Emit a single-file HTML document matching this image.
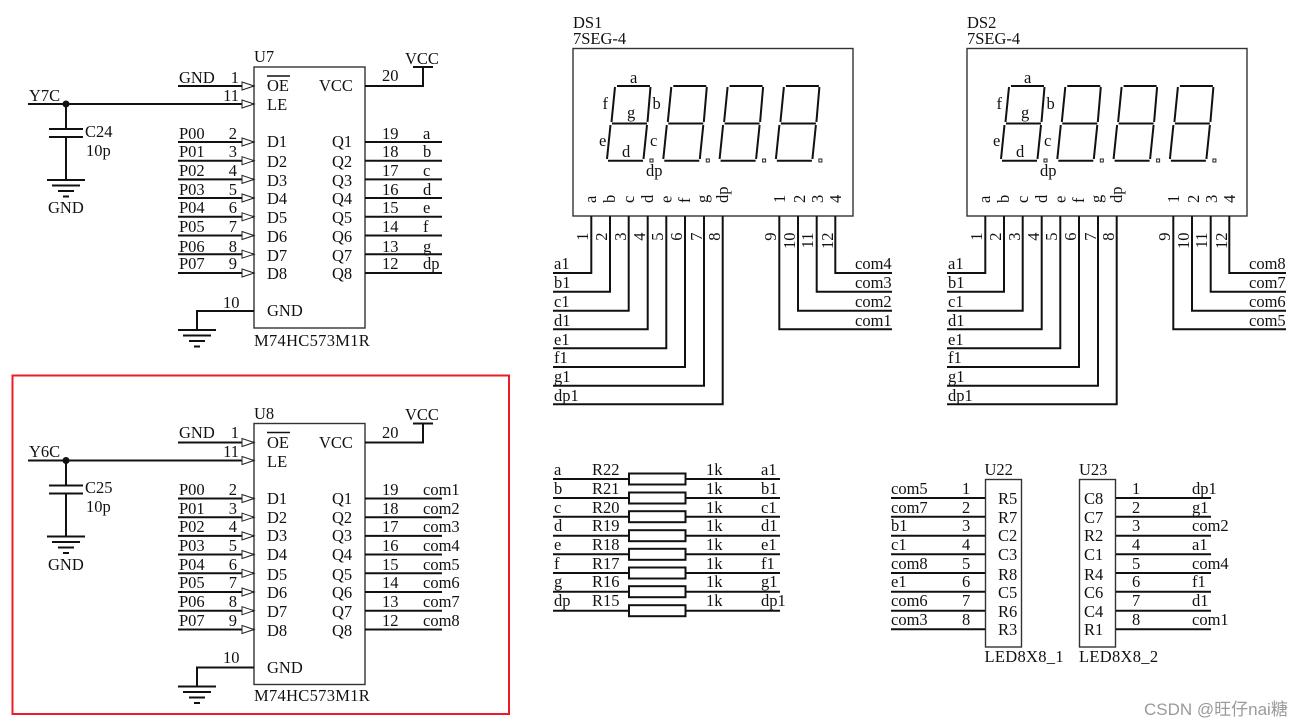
<!DOCTYPE html>
<html><head><meta charset="utf-8"><style>
html,body{margin:0;padding:0;background:#fff}
svg{display:block}
text{font-family:"Liberation Serif","Noto Serif CJK SC",serif;font-size:16.500px;fill:#111}
.w{stroke:#111;stroke-width:2;fill:none}
.b{stroke:#333;stroke-width:1.4;fill:#fff}
.a{stroke:#222;stroke-width:1;fill:#fff}
.s{stroke:#111;stroke-width:2;fill:none}
.m{text-anchor:end}
.l{letter-spacing:.3px}
</style></head><body>
<svg width="1302" height="727" viewBox="0 0 1302 727" xmlns="http://www.w3.org/2000/svg">
<defs>
<path id="gnd" class="w" d="M-19 0H19M-14 5.500H14M-8 11H8M-3 16.500H3"/>
<g id="ic">
<rect class="b" x="254" y="67" width="111" height="261"/>
<path class="w" d="M178 86H254M178 142H254M178 160.700H254M178 179.400H254M178 198H254M178 216.800H254M178 235.500H254M178 254.200H254M178 273H254"/>
<path class="w" d="M28 104H254"/>
<path class="w" d="M365 142H442M365 160.700H442M365 179.400H442M365 198H442M365 216.800H442M365 235.500H442M365 254.200H442M365 273H442"/>
<path class="w" d="M365 86H423V67M413 67H433"/>
<path class="w" d="M254 311H197V330"/>
<use href="#gnd" x="197" y="330"/>
<path class="w" d="M66 104V129M49 129H83M49 137H83M66 137V180"/>
<use href="#gnd" x="66" y="180"/>
<circle cx="66" cy="104" r="3.500" fill="#111"/>
<path class="a" d="M242 82L254 86L242 90ZM242 100L254 104L242 108ZM242 138L254 142L242 146ZM242 156.700L254 160.700L242 164.700ZM242 175.400L254 179.400L242 183.400ZM242 194L254 198L242 202ZM242 212.800L254 216.800L242 220.800ZM242 231.500L254 235.500L242 239.500ZM242 250.200L254 254.200L242 258.200ZM242 269L254 273L242 277Z"/>
<path d="M267 76H290" stroke="#111" stroke-width="1.500"/>
</g>
<g id="dig">
<path class="s" d="M617 86H650M615 87L611.500 122M650.500 87L647.500 122M612 123.500H647M610.500 125L607 159M647 125L643.500 159M608 160.700H643"/>
<rect x="650" y="159" width="3" height="3" fill="none" stroke="#222" stroke-width="1"/>
</g>
<g id="ds">
<rect class="b" x="573" y="48.500" width="280" height="167.500"/>
<use href="#dig"/><use href="#dig" x="56.300"/><use href="#dig" x="112.600"/><use href="#dig" x="168.900"/>
<path class="w" d="M591.300 216V273H553M610 216V291.700H553M628.700 216V310.700H553M647.700 216V329.300H553M666.300 216V348.300H553M685 216V367H553M704 216V385.700H553M722.700 216V404.300H553"/>
<path class="w" d="M835.300 216V273H892M816.700 216V291.700H892M798 216V310.700H892M779.300 216V329.300H892"/>
</g>
</defs>

<rect x="12.500" y="375.500" width="496.500" height="338.500" fill="none" stroke="#ed1c24" stroke-width="2"/>

<use href="#ic"/>
<use href="#ic" y="356.500"/>
<use href="#ds"/>
<use href="#ds" x="394"/>

<!-- U7 -->
<text x="254" y="62">U7</text><text x="405" y="64">VCC</text>
<text x="179" y="83">GND</text><text x="239" y="83" class="m">1</text><text x="239" y="101" class="m">11</text>
<text x="29" y="101">Y7C</text><text x="85" y="137">C24</text><text x="86" y="156">10p</text><text x="48" y="213">GND</text>
<text x="267" y="91">OE</text><text x="319" y="91">VCC</text><text x="267" y="110">LE</text><text x="382" y="81">20</text>
<text x="179" y="139">P00</text><text x="237" y="139" class="m">2</text><text x="267" y="147">D1</text><text x="332" y="147">Q1</text><text x="382" y="139">19</text><text x="423" y="139">a</text>
<text x="179" y="157">P01</text><text x="237" y="157" class="m">3</text><text x="267" y="167">D2</text><text x="332" y="167">Q2</text><text x="382" y="157">18</text><text x="423" y="157">b</text>
<text x="179" y="176">P02</text><text x="237" y="176" class="m">4</text><text x="267" y="186">D3</text><text x="332" y="186">Q3</text><text x="382" y="176">17</text><text x="423" y="176">c</text>
<text x="179" y="195">P03</text><text x="237" y="195" class="m">5</text><text x="267" y="204">D4</text><text x="332" y="204">Q4</text><text x="382" y="195">16</text><text x="423" y="195">d</text>
<text x="179" y="213">P04</text><text x="237" y="213" class="m">6</text><text x="267" y="223">D5</text><text x="332" y="223">Q5</text><text x="382" y="213">15</text><text x="423" y="213">e</text>
<text x="179" y="232">P05</text><text x="237" y="232" class="m">7</text><text x="267" y="242">D6</text><text x="332" y="242">Q6</text><text x="382" y="232">14</text><text x="423" y="232">f</text>
<text x="179" y="252">P06</text><text x="237" y="252" class="m">8</text><text x="267" y="261">D7</text><text x="332" y="261">Q7</text><text x="382" y="252">13</text><text x="423" y="252">g</text>
<text x="179" y="269">P07</text><text x="237" y="269" class="m">9</text><text x="267" y="279">D8</text><text x="332" y="279">Q8</text><text x="382" y="269">12</text><text x="423" y="269">dp</text>
<text x="223" y="308">10</text><text x="267" y="316">GND</text><text x="254" y="346" class="l">M74HC573M1R</text>

<!-- U8 -->
<text x="254" y="419">U8</text><text x="405" y="420">VCC</text>
<text x="179" y="438">GND</text><text x="239" y="438" class="m">1</text><text x="239" y="457" class="m">11</text>
<text x="29" y="457">Y6C</text><text x="85" y="493">C25</text><text x="86" y="512">10p</text><text x="48" y="570">GND</text>
<text x="267" y="448">OE</text><text x="319" y="448">VCC</text><text x="267" y="467">LE</text><text x="382" y="438">20</text>
<text x="179" y="495">P00</text><text x="237" y="495" class="m">2</text><text x="267" y="504">D1</text><text x="332" y="504">Q1</text><text x="382" y="495">19</text><text x="423" y="495">com1</text>
<text x="179" y="514">P01</text><text x="237" y="514" class="m">3</text><text x="267" y="523">D2</text><text x="332" y="523">Q2</text><text x="382" y="514">18</text><text x="423" y="514">com2</text>
<text x="179" y="532">P02</text><text x="237" y="532" class="m">4</text><text x="267" y="541">D3</text><text x="332" y="541">Q3</text><text x="382" y="532">17</text><text x="423" y="532">com3</text>
<text x="179" y="551">P03</text><text x="237" y="551" class="m">5</text><text x="267" y="560">D4</text><text x="332" y="560">Q4</text><text x="382" y="551">16</text><text x="423" y="551">com4</text>
<text x="179" y="570">P04</text><text x="237" y="570" class="m">6</text><text x="267" y="580">D5</text><text x="332" y="580">Q5</text><text x="382" y="570">15</text><text x="423" y="570">com5</text>
<text x="179" y="588">P05</text><text x="237" y="588" class="m">7</text><text x="267" y="598">D6</text><text x="332" y="598">Q6</text><text x="382" y="588">14</text><text x="423" y="588">com6</text>
<text x="179" y="607">P06</text><text x="237" y="607" class="m">8</text><text x="267" y="617">D7</text><text x="332" y="617">Q7</text><text x="382" y="607">13</text><text x="423" y="607">com7</text>
<text x="179" y="626">P07</text><text x="237" y="626" class="m">9</text><text x="267" y="636">D8</text><text x="332" y="636">Q8</text><text x="382" y="626">12</text><text x="423" y="626">com8</text>
<text x="223" y="663">10</text><text x="267" y="673">GND</text><text x="254" y="701" class="l">M74HC573M1R</text>

<!-- DS1 -->
<text x="573" y="28">DS1</text><text x="573" y="44">7SEG-4</text>
<text x="630" y="83">a</text><text x="602.500" y="109">f</text><text x="652.500" y="109">b</text><text x="627" y="118">g</text><text x="599" y="146">e</text><text x="650" y="146">c</text><text x="622" y="157">d</text><text x="646" y="176">dp</text>
<text transform="translate(596 203) rotate(-90)">a</text><text transform="translate(615 203) rotate(-90)">b</text><text transform="translate(634 203) rotate(-90)">c</text><text transform="translate(653 203) rotate(-90)">d</text><text transform="translate(671.500 203) rotate(-90)">e</text><text transform="translate(690 203) rotate(-90)">f</text><text transform="translate(708 203) rotate(-90)">g</text><text transform="translate(728 203) rotate(-90)">dp</text>
<text transform="translate(785 203) rotate(-90)">1</text><text transform="translate(805 203) rotate(-90)">2</text><text transform="translate(823 203) rotate(-90)">3</text><text transform="translate(841 203) rotate(-90)">4</text>
<text class="m" transform="translate(588 232.500) rotate(-90)">1</text><text class="m" transform="translate(607 232.500) rotate(-90)">2</text><text class="m" transform="translate(626 232.500) rotate(-90)">3</text><text class="m" transform="translate(645 232.500) rotate(-90)">4</text><text class="m" transform="translate(663 232.500) rotate(-90)">5</text><text class="m" transform="translate(682 232.500) rotate(-90)">6</text><text class="m" transform="translate(702 232.500) rotate(-90)">7</text><text class="m" transform="translate(720 232.500) rotate(-90)">8</text><text class="m" transform="translate(776 232.500) rotate(-90)">9</text><text class="m" transform="translate(795 232.500) rotate(-90)">10</text><text class="m" transform="translate(813 232.500) rotate(-90)">11</text><text class="m" transform="translate(833 232.500) rotate(-90)">12</text>
<text x="554" y="269">a1</text><text x="554" y="288">b1</text><text x="554" y="307">c1</text><text x="554" y="326">d1</text><text x="554" y="345">e1</text><text x="554" y="363">f1</text><text x="554" y="382">g1</text><text x="554" y="401">dp1</text>
<text x="855" y="269">com4</text><text x="855" y="288">com3</text><text x="855" y="307">com2</text><text x="855" y="326">com1</text>

<!-- DS2 -->
<text x="967" y="28">DS2</text><text x="967" y="44">7SEG-4</text>
<text x="1024" y="83">a</text><text x="996.500" y="109">f</text><text x="1046.500" y="109">b</text><text x="1021" y="118">g</text><text x="993" y="146">e</text><text x="1044" y="146">c</text><text x="1016" y="157">d</text><text x="1040" y="176">dp</text>
<text transform="translate(990 203) rotate(-90)">a</text><text transform="translate(1009 203) rotate(-90)">b</text><text transform="translate(1028 203) rotate(-90)">c</text><text transform="translate(1047 203) rotate(-90)">d</text><text transform="translate(1065.500 203) rotate(-90)">e</text><text transform="translate(1084 203) rotate(-90)">f</text><text transform="translate(1102 203) rotate(-90)">g</text><text transform="translate(1122 203) rotate(-90)">dp</text>
<text transform="translate(1179 203) rotate(-90)">1</text><text transform="translate(1199 203) rotate(-90)">2</text><text transform="translate(1217 203) rotate(-90)">3</text><text transform="translate(1235 203) rotate(-90)">4</text>
<text class="m" transform="translate(982 232.500) rotate(-90)">1</text><text class="m" transform="translate(1001 232.500) rotate(-90)">2</text><text class="m" transform="translate(1020 232.500) rotate(-90)">3</text><text class="m" transform="translate(1039 232.500) rotate(-90)">4</text><text class="m" transform="translate(1057 232.500) rotate(-90)">5</text><text class="m" transform="translate(1076 232.500) rotate(-90)">6</text><text class="m" transform="translate(1096 232.500) rotate(-90)">7</text><text class="m" transform="translate(1114 232.500) rotate(-90)">8</text><text class="m" transform="translate(1170 232.500) rotate(-90)">9</text><text class="m" transform="translate(1189 232.500) rotate(-90)">10</text><text class="m" transform="translate(1207 232.500) rotate(-90)">11</text><text class="m" transform="translate(1227 232.500) rotate(-90)">12</text>
<text x="948" y="269">a1</text><text x="948" y="288">b1</text><text x="948" y="307">c1</text><text x="948" y="326">d1</text><text x="948" y="345">e1</text><text x="948" y="363">f1</text><text x="948" y="382">g1</text><text x="948" y="401">dp1</text>
<text x="1249" y="269">com8</text><text x="1249" y="288">com7</text><text x="1249" y="307">com6</text><text x="1249" y="326">com5</text>

<!-- Resistors -->
<path class="w" d="M553 479H780M553 498H780M553 516.700H780M553 535.700H780M553 554.300H780M553 573H780M553 591.700H780M553 610.700H780"/>
<g fill="#fff" stroke="#111" stroke-width="2">
<rect x="629" y="473.500" width="56.500" height="11"/><rect x="629" y="492.500" width="56.500" height="11"/><rect x="629" y="511.200" width="56.500" height="11"/><rect x="629" y="530.200" width="56.500" height="11"/><rect x="629" y="548.800" width="56.500" height="11"/><rect x="629" y="567.500" width="56.500" height="11"/><rect x="629" y="586.200" width="56.500" height="11"/><rect x="629" y="605.200" width="56.500" height="11"/>
</g>
<text x="554" y="475">a</text><text x="592" y="475">R22</text><text x="706" y="475">1k</text><text x="761" y="475">a1</text>
<text x="554" y="494">b</text><text x="592" y="494">R21</text><text x="706" y="494">1k</text><text x="761" y="494">b1</text>
<text x="554" y="513">c</text><text x="592" y="513">R20</text><text x="706" y="513">1k</text><text x="761" y="513">c1</text>
<text x="554" y="531">d</text><text x="592" y="531">R19</text><text x="706" y="531">1k</text><text x="761" y="531">d1</text>
<text x="554" y="550">e</text><text x="592" y="550">R18</text><text x="706" y="550">1k</text><text x="761" y="550">e1</text>
<text x="554" y="569">f</text><text x="592" y="569">R17</text><text x="706" y="569">1k</text><text x="761" y="569">f1</text>
<text x="554" y="587">g</text><text x="592" y="587">R16</text><text x="706" y="587">1k</text><text x="761" y="587">g1</text>
<text x="554" y="606">dp</text><text x="592" y="606">R15</text><text x="706" y="606">1k</text><text x="761" y="606">dp1</text>

<!-- U22 / U23 -->
<rect class="b" x="985.500" y="479.500" width="36" height="167.500"/>
<rect class="b" x="1079.500" y="479.500" width="36" height="167.500"/>
<path class="w" d="M891 498H985M891 516.700H985M891 535.700H985M891 554.300H985M891 573H985M891 591.700H985M891 610.700H985M891 629.300H985"/>
<path class="w" d="M1116 498H1211M1116 516.700H1211M1116 535.700H1211M1116 554.300H1211M1116 573H1211M1116 591.700H1211M1116 610.700H1211M1116 629.300H1211"/>
<text x="984.500" y="475">U22</text><text x="1079" y="475">U23</text><text x="984.500" y="662" class="l">LED8X8_1</text><text x="1079" y="662" class="l">LED8X8_2</text>
<text x="891" y="494">com5</text><text x="962" y="494">1</text><text x="998" y="504">R5</text><text x="1084" y="504">C8</text><text x="1132" y="494">1</text><text x="1192" y="494">dp1</text>
<text x="891" y="513">com7</text><text x="962" y="513">2</text><text x="998" y="523">R7</text><text x="1084" y="523">C7</text><text x="1132" y="513">2</text><text x="1192" y="513">g1</text>
<text x="891" y="531">b1</text><text x="962" y="531">3</text><text x="998" y="541">C2</text><text x="1084" y="541">R2</text><text x="1132" y="531">3</text><text x="1192" y="531">com2</text>
<text x="891" y="550">c1</text><text x="962" y="550">4</text><text x="998" y="560">C3</text><text x="1084" y="560">C1</text><text x="1132" y="550">4</text><text x="1192" y="550">a1</text>
<text x="891" y="569">com8</text><text x="962" y="569">5</text><text x="998" y="580">R8</text><text x="1084" y="580">R4</text><text x="1132" y="569">5</text><text x="1192" y="569">com4</text>
<text x="891" y="587">e1</text><text x="962" y="587">6</text><text x="998" y="598">C5</text><text x="1084" y="598">C6</text><text x="1132" y="587">6</text><text x="1192" y="587">f1</text>
<text x="891" y="606">com6</text><text x="962" y="606">7</text><text x="998" y="617">R6</text><text x="1084" y="617">C4</text><text x="1132" y="606">7</text><text x="1192" y="606">d1</text>
<text x="891" y="625">com3</text><text x="962" y="625">8</text><text x="998" y="635">R3</text><text x="1084" y="635">R1</text><text x="1132" y="625">8</text><text x="1192" y="625">com1</text>

<text x="1144" y="715" style="font-family:'Liberation Sans','Noto Sans CJK SC',sans-serif;font-size:17px;fill:#9a9a9a">CSDN @旺仔nai糖</text>
</svg>
</body></html>
